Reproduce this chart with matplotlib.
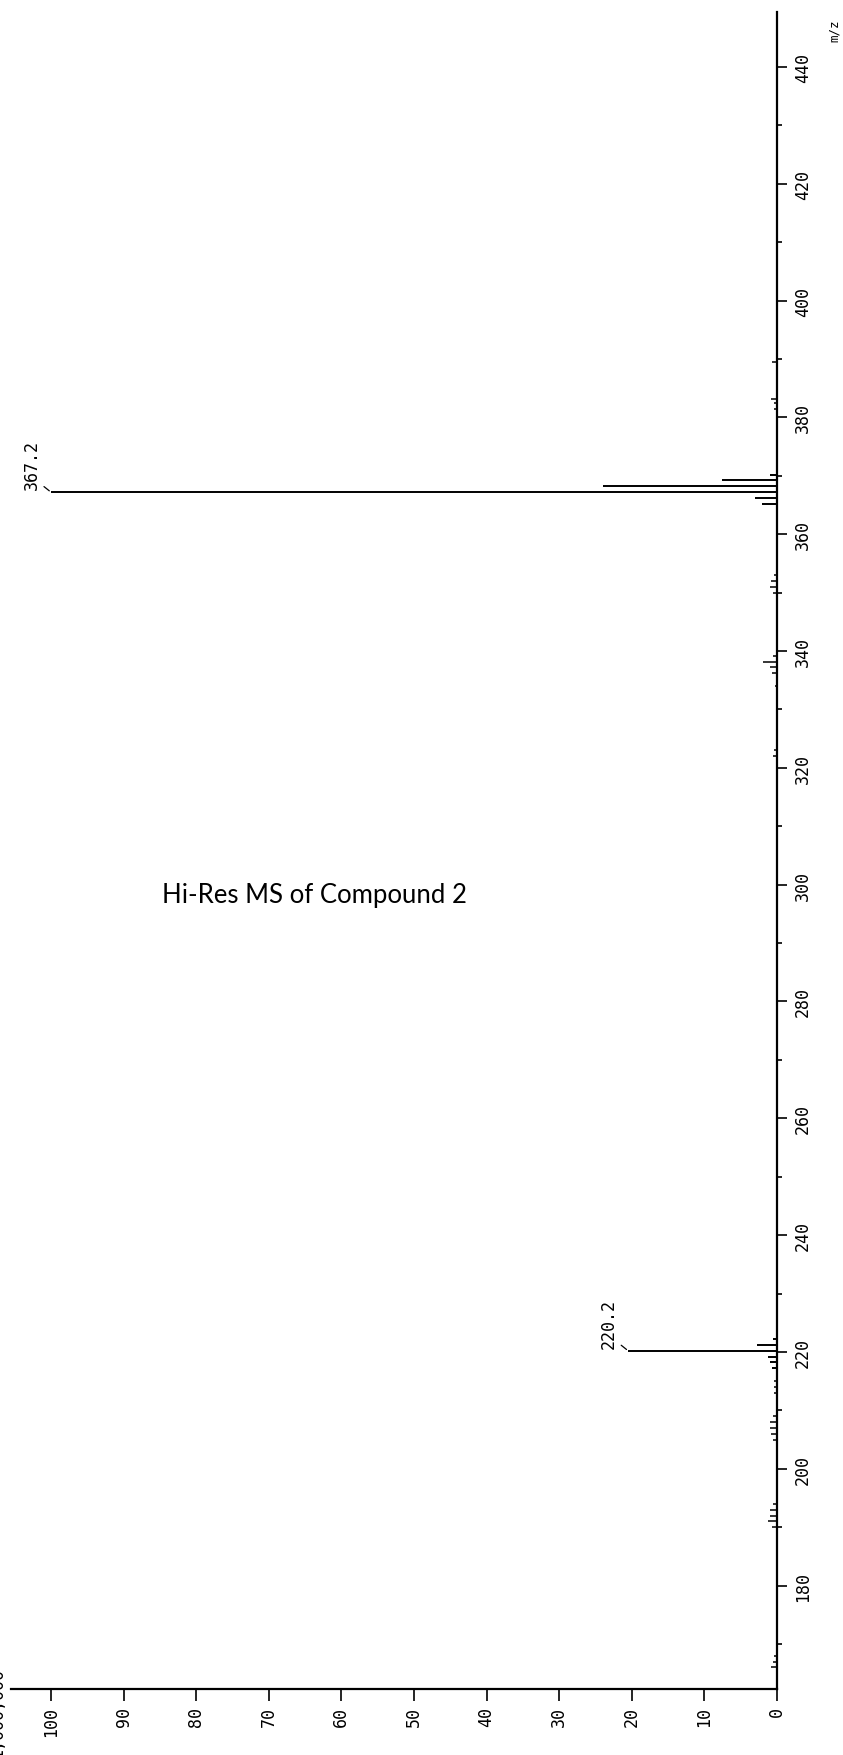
import matplotlib
matplotlib.use("Agg")
import matplotlib.pyplot as plt
from matplotlib.ticker import MultipleLocator

# molecular ion cluster (m/z, relative intensity %)
mz_parent = [365.2, 366.2, 367.2, 368.2, 369.2, 370.2]
int_parent = [2.0, 3.0, 100.0, 24.0, 7.6, 1.0]

# fragment cluster
mz_frag = [217.2, 218.2, 219.2, 220.2, 221.2, 222.2]
int_frag = [0.7, 1.0, 1.2, 20.5, 2.7, 0.6]

# small background peaks
mz_minor = [166, 167, 168, 190, 191, 192, 193, 194, 205, 206, 207, 208, 209,
            213, 214, 215, 322, 323, 334, 336.2, 337.2, 338.2, 339.2,
            350, 351, 352, 353, 381.4, 382.5, 383.1, 389.5]
int_minor = [0.8, 0.6, 0.4, 0.7, 1.2, 1.0, 0.9, 0.5, 0.5, 0.8, 1.0, 0.9, 0.6,
             0.4, 0.4, 0.4, 0.5, 0.4, 0.3, 0.7, 1.0, 1.9, 0.5,
             0.5, 1.0, 0.8, 0.4, 0.4, 0.4, 0.8, 0.7]

peak_mz = [367.2, 220.2]
peak_int = [100.0, 20.5]
peak_labels = ["367.2", "220.2"]

int_ticks = list(range(0, 101, 10))
mz_ticks = list(range(180, 441, 20))

W, H = 843, 1756
MONO = "DejaVu Sans Mono"

fig = plt.figure(figsize=(W / 100, H / 100), dpi=100)
# axes placed in pixel terms: m/z axis at x=777, intensity axis at y=1690
ax = fig.add_axes([11 / W, (H - 1690) / H, (777 - 11) / W, (1690 - 13) / H])

ax.hlines(mz_minor, 0, int_minor, color="black", lw=1.1)
ax.hlines(mz_frag, 0, int_frag, color="black", lw=1.4)
ax.hlines(mz_parent, 0, int_parent, color="black", lw=1.4)

ax.set_xlim(105.5, 0)
ax.set_ylim(162.3, 449.4)

for side in ("top", "left"):
    ax.spines[side].set_visible(False)
for side in ("right", "bottom"):
    ax.spines[side].set_linewidth(1.6)

ax.yaxis.tick_right()
ax.set_yticks(mz_ticks)
ax.yaxis.set_minor_locator(MultipleLocator(10))
ax.tick_params(axis="y", which="major", direction="out", length=7, width=1.2,
               pad=5, labelsize=12, labelrotation=90)
ax.tick_params(axis="y", which="minor", direction="out", length=3.5, width=1.2)
for t in ax.get_yticklabels():
    t.set_fontfamily(MONO)
    t.set_va("center")

ax.set_xticks(int_ticks)
ax.tick_params(axis="x", which="major", direction="out", length=8.5, width=1.2,
               pad=4, labelsize=12, labelrotation=90)
for t in ax.get_xticklabels():
    t.set_fontfamily(MONO)

# peak annotations
for x, y, lab in zip(peak_int, peak_mz, peak_labels):
    ax.annotate(lab, xy=(x, y), xytext=(-14, 2), textcoords="offset points",
                rotation=90, ha="center", va="bottom", fontsize=12,
                family=MONO)
    ax.annotate("", xy=(x, y), xytext=(-5, 4), textcoords="offset points",
                arrowprops=dict(arrowstyle="-", lw=0.9, shrinkA=0, shrinkB=1.5))

fig.text(834 / W, 1 - 31 / H, "m/z", rotation=90, ha="center", va="center",
         fontsize=9, family=MONO)
# scan-cropped scale label at the left edge
fig.text(6 / W, (H - 1668) / H, "1,000,000", rotation=90, ha="right", va="top",
         fontsize=12, family=MONO)
fig.text(314 / W, 1 - 896 / H, "Hi-Res MS of Compound 2", ha="center",
         va="center", fontsize=18.5, family="Lato")

fig.savefig("out.png", dpi=100)
